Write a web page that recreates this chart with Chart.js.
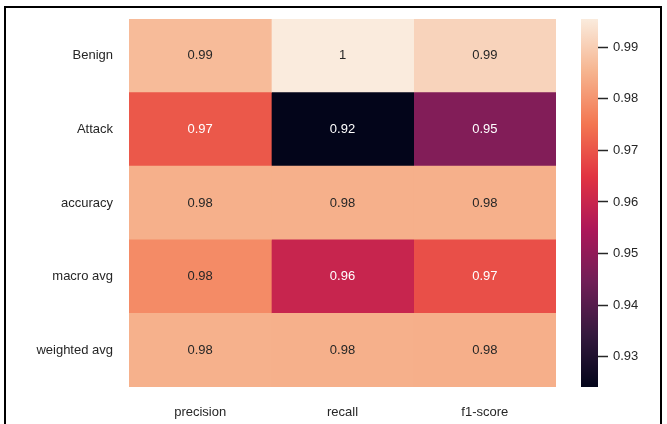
<!DOCTYPE html>
<html>
<head>
<meta charset="utf-8">
<script src="https://cdn.jsdelivr.net/npm/chart.js@4.4.1/dist/chart.umd.min.js"></script>
<style>
  html, body { margin: 0; padding: 0; background: #fff; }
  #wrap { position: relative; width: 667px; height: 424px; overflow: hidden; background: #fff; }
  #frame { position: absolute; left: 4px; top: 6px; width: 658px; height: 450px; border: 2px solid #000; box-sizing: border-box; }
  #heat { position: absolute; left: 0; top: 0; }
  #cbar { position: absolute; left: 575px; top: 0; }
</style>
</head>
<body>
<div id="wrap">
  <div id="frame"></div>
  <canvas id="heat" width="560" height="424"></canvas>
  <canvas id="cbar" width="92" height="424"></canvas>
</div>
<script>
// Classification report scores
const rowLabels = ['Benign', 'Attack', 'accuracy', 'macro avg', 'weighted avg'];
const colLabels = ['precision', 'recall', 'f1-score'];
const precision = [0.9866, 0.9705, 0.9846, 0.9786, 0.9848];
const recall    = [0.9955, 0.9241, 0.9846, 0.9598, 0.9846];
const f1score   = [0.9910, 0.9475, 0.9846, 0.9692, 0.9845];
const colorbarTicks = [0.93, 0.94, 0.95, 0.96, 0.97, 0.98, 0.99];

const series = [precision, recall, f1score];
const allValues = series.flat();
const vmin = Math.min(...allValues);
const vmax = Math.max(...allValues);

// "rocket" colour map stops (position, rgb)
const rocket = [
  [0.000, [3, 5, 26]],
  [0.143, [53, 25, 62]],
  [0.286, [112, 31, 87]],
  [0.429, [173, 23, 89]],
  [0.571, [225, 51, 66]],
  [0.714, [243, 118, 81]],
  [0.857, [246, 180, 143]],
  [1.000, [250, 235, 221]]
];

function cmap(t) {
  t = Math.max(0, Math.min(1, t));
  for (let i = 1; i < rocket.length; i++) {
    const [p1, c1] = rocket[i];
    const [p0, c0] = rocket[i - 1];
    if (t <= p1) {
      const f = (t - p0) / (p1 - p0);
      return c0.map((c, k) => Math.round(c + (c1[k] - c) * f));
    }
  }
  return rocket[rocket.length - 1][1];
}
const norm = v => (v - vmin) / (vmax - vmin);
const rgb = c => `rgb(${c[0]},${c[1]},${c[2]})`;

function luminance(c) {
  const lin = c.map(x => {
    x /= 255;
    return x <= 0.03928 ? x / 12.92 : Math.pow((x + 0.055) / 1.055, 2.4);
  });
  return 0.2126 * lin[0] + 0.7152 * lin[1] + 0.0722 * lin[2];
}
const textColor = v => luminance(cmap(norm(v))) > 0.35 ? '#262626' : '#ffffff';
// two significant digits, trailing zeros dropped
const fmt = v => String(Number(v.toPrecision(2)));

const FONT = { family: '"Liberation Sans", Arial, sans-serif', size: 13 };
const LABEL_COLOR = '#262626';

const annotate = {
  id: 'annotate',
  afterDatasetsDraw(chart) {
    const ctx = chart.ctx;
    ctx.save();
    ctx.font = `${FONT.size}px ${FONT.family}`;
    ctx.textAlign = 'center';
    ctx.textBaseline = 'middle';
    chart.data.datasets.forEach((ds, j) => {
      chart.getDatasetMeta(j).data.forEach((el, i) => {
        const v = series[j][i];
        const p = el.getCenterPoint();
        ctx.fillStyle = textColor(v);
        ctx.fillText(fmt(v), p.x, p.y);
      });
    });
    ctx.restore();
  }
};

// Heatmap: one floating bar per cell, spanning [column, column + 1]
new Chart(document.getElementById('heat'), {
  type: 'bar',
  data: {
    labels: rowLabels,
    datasets: colLabels.map((name, j) => ({
      label: name,
      data: rowLabels.map(() => [j, j + 1]),
      backgroundColor: series[j].map(v => rgb(cmap(norm(v)))),
      borderWidth: 0,
      barPercentage: 1,
      categoryPercentage: 1,
      grouped: false
    }))
  },
  options: {
    indexAxis: 'y',
    responsive: false,
    animation: false,
    devicePixelRatio: 1,
    layout: { padding: { top: 19, right: 4, left: 0, bottom: 0 } },
    plugins: { legend: { display: false }, tooltip: { enabled: false } },
    scales: {
      x: {
        type: 'linear',
        min: 0,
        max: colLabels.length,
        afterBuildTicks: s => { s.ticks = colLabels.map((_, j) => ({ value: j + 0.5 })); },
        ticks: { callback: (v, i) => colLabels[i], padding: 10, font: FONT, color: LABEL_COLOR, maxRotation: 0 },
        grid: { display: false },
        border: { display: false },
        afterFit: s => { s.height = 37; }
      },
      y: {
        ticks: { padding: 8, font: FONT, color: LABEL_COLOR },
        grid: { display: false },
        border: { display: false },
        afterFit: s => { s.width = 129; }
      }
    }
  },
  plugins: [annotate]
});

// Colour bar: a single bar from vmin to vmax filled with the colour map
new Chart(document.getElementById('cbar'), {
  type: 'bar',
  data: {
    labels: [''],
    datasets: [{
      data: [[vmin, vmax]],
      backgroundColor: ctx => {
        const area = ctx.chart.chartArea;
        if (!area) return 'transparent';
        const g = ctx.chart.ctx.createLinearGradient(0, area.bottom, 0, area.top);
        rocket.forEach(([p, c]) => g.addColorStop(p, rgb(c)));
        return g;
      },
      borderWidth: 0,
      barPercentage: 1,
      categoryPercentage: 1
    }]
  },
  options: {
    responsive: false,
    animation: false,
    devicePixelRatio: 1,
    layout: { padding: { top: 19, left: 6, bottom: 37, right: 0 } },
    plugins: { legend: { display: false }, tooltip: { enabled: false } },
    scales: {
      x: { display: false },
      y: {
        position: 'right',
        min: vmin,
        max: vmax,
        afterBuildTicks: s => { s.ticks = colorbarTicks.map(v => ({ value: v })); },
        ticks: { padding: 5, font: FONT, color: LABEL_COLOR, callback: v => v.toFixed(2) },
        grid: { drawOnChartArea: false, drawTicks: true, tickLength: 10, tickColor: '#262626', tickWidth: 1.5 },
        border: { display: false },
        afterFit: s => { s.width = 69; }
      }
    }
  }
});
</script>
</body>
</html>
